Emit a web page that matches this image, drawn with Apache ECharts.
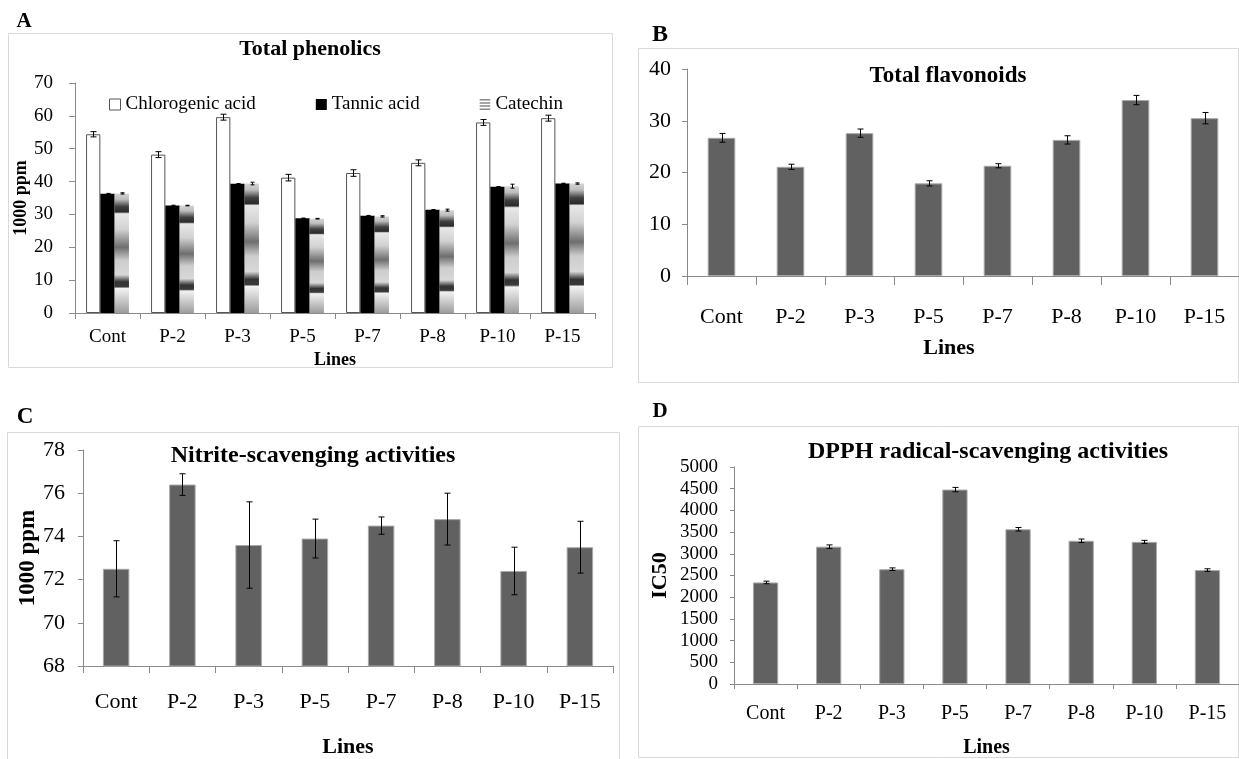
<!DOCTYPE html>
<html>
<head>
<meta charset="utf-8">
<script src="https://cdn.jsdelivr.net/npm/echarts@6/dist/echarts.min.js"></script>
<style>
html, body { margin: 0; padding: 0; background: #fff; }
#main { width: 1239px; height: 759px; }
</style>
</head>
<body>
<div id="main"></div>
<script>
// categories (same for the 4 panels)
var lines = ['Cont', 'P-2', 'P-3', 'P-5', 'P-7', 'P-8', 'P-10', 'P-15'];

// A - total phenolics
var chlorogenic = [54.4, 48.2, 59.6, 41.2, 42.6, 45.7, 58.0, 59.3];
var chlorogenicErr = [0.8, 0.9, 0.9, 1.0, 1.0, 0.9, 0.9, 0.9];
var tannic = [36.3, 32.7, 39.3, 28.8, 29.6, 31.4, 38.4, 39.4];
var tannicErr = [0.1, 0.1, 0.1, 0.1, 0.1, 0.1, 0.1, 0.1];
var catechin = [36.4, 32.7, 39.4, 28.7, 29.4, 31.3, 38.6, 39.4];
var catechinErr = [0.2, 0.1, 0.4, 0.1, 0.2, 0.3, 0.6, 0.2];

// B - total flavonoids
var flavonoids = [26.7, 21.1, 27.6, 17.9, 21.3, 26.3, 34.0, 30.5];
var flavonoidsErr = [0.85, 0.5, 0.8, 0.5, 0.4, 0.8, 0.9, 1.1];

// C - nitrite scavenging
var nitrite = [72.5, 76.4, 73.6, 73.9, 74.5, 74.8, 72.4, 73.5];
var nitriteErr = [1.3, 0.5, 2.0, 0.9, 0.4, 1.2, 1.1, 1.2];

// D - DPPH IC50
var dpph = [2340, 3165, 2645, 4480, 3565, 3300, 3275, 2625];
var dpphErr = [30, 40, 30, 50, 40, 40, 35, 30];

var FONT = '"Liberation Serif", "Times New Roman", serif';
var AXIS_COLOR = '#8a8a8a';
var BAR_GRAY = '#616161';

var chart = echarts.init(document.getElementById('main'));

function toErrData(vals, errs) {
	return lines.map(function (c, i) {
		return [i, vals[i], errs[i]];
	});
}

// error bar drawn with api.coord, offset = fraction of category band
function errBar(offset, cap) {
	return function (params, api) {
		var i = api.value(0), v = api.value(1), e = api.value(2);
		var band = api.size([1, 0])[0];
		var top = api.coord([i, v + e]);
		var bot = api.coord([i, v - e]);
		var x = Math.round(top[0] + offset * band) + 0.5;
		var st = { stroke: '#000', lineWidth: 1 };
		return {
			type: 'group',
			children: [
				{ type: 'line', shape: { x1: x, y1: top[1], x2: x, y2: bot[1] }, style: st },
				{ type: 'line', shape: { x1: x - cap, y1: top[1], x2: x + cap, y2: top[1] }, style: st },
				{ type: 'line', shape: { x1: x - cap, y1: bot[1], x2: x + cap, y2: bot[1] }, style: st }
			]
		};
	};
}

function catAxis(idx, o) {
	return {
		type: 'category',
		gridIndex: idx,
		data: lines,
		axisLine: { lineStyle: { color: AXIS_COLOR, width: 1 } },
		axisTick: { show: true, length: o.tick, lineStyle: { color: AXIS_COLOR } },
		axisLabel: { color: '#000', fontFamily: FONT, fontSize: o.fs, margin: o.margin },
		name: 'Lines',
		nameLocation: 'middle',
		nameGap: o.nameGap,
		nameTextStyle: { color: '#000', fontFamily: FONT, fontWeight: 'bold', fontSize: o.nfs, padding: o.namePad || 0 }
	};
}

function valAxis(idx, o) {
	return {
		type: 'value',
		gridIndex: idx,
		min: o.min,
		max: o.max,
		interval: o.interval,
		axisLine: { show: true, lineStyle: { color: AXIS_COLOR, width: 1 } },
		axisTick: { show: true, length: o.tick, lineStyle: { color: AXIS_COLOR } },
		axisLabel: {
			color: '#000', fontFamily: FONT, fontSize: o.fs, margin: o.margin,
			formatter: function (v) { return String(v); }
		},
		splitLine: { show: false },
		name: o.name || '',
		nameLocation: 'middle',
		nameGap: o.nameGap || 0,
		nameTextStyle: { color: '#000', fontFamily: FONT, fontWeight: 'bold', fontSize: o.nfs || 18 }
	};
}

function grayBars(name, idx, vals) {
	return {
		name: name,
		type: 'bar',
		xAxisIndex: idx,
		yAxisIndex: idx,
		barWidth: '40%',
		itemStyle: { color: BAR_GRAY, borderColor: '#a8a8a8', borderWidth: 1 },
		data: vals
	};
}

function errSeries(idx, vals, errs, offset, cap) {
	return {
		type: 'custom',
		xAxisIndex: idx,
		yAxisIndex: idx,
		z: 5,
		renderItem: errBar(offset, cap),
		encode: { x: 0, y: 1 },
		data: toErrData(vals, errs)
	};
}

// banded fill used for catechin
var catechinFill = new echarts.graphic.LinearGradient(0, 0, 0, 1, [
	{ offset: 0, color: '#d6d6d6' },
	{ offset: 0.05, color: '#bcbcbc' },
	{ offset: 0.11, color: '#404040' },
	{ offset: 0.155, color: '#2a2a2a' },
	{ offset: 0.17, color: '#e8e8e8' },
	{ offset: 0.3, color: '#d2d2d2' },
	{ offset: 0.45, color: '#6e6e6e' },
	{ offset: 0.56, color: '#cdcdcd' },
	{ offset: 0.68, color: '#d8d8d8' },
	{ offset: 0.74, color: '#333333' },
	{ offset: 0.78, color: '#3a3a3a' },
	{ offset: 0.795, color: '#f2f2f2' },
	{ offset: 1, color: '#9c9c9c' }
]);

function titleAt(text, x, y, size) {
	return {
		text: text,
		left: x,
		top: y,
		textAlign: 'center',
		padding: 0,
		textStyle: { fontFamily: FONT, fontWeight: 'bold', fontSize: size, color: '#000' }
	};
}

function letter(text, x, y, size) {
	return {
		type: 'text',
		x: x,
		y: y,
		style: { text: text, fontFamily: FONT, fontWeight: 'bold', fontSize: size, fill: '#000', align: 'center', verticalAlign: 'middle' }
	};
}

function box(x, y, w, h) {
	return {
		type: 'rect',
		shape: { x: x, y: y, width: w, height: h },
		style: { fill: 'none', stroke: '#d9d9d9', lineWidth: 1 },
		z: -1
	};
}

var option = {
	backgroundColor: '#fff',
	animation: false,
	title: [
		titleAt('Total phenolics', 310, 38, 22),
		titleAt('Total flavonoids', 948, 65, 23),
		titleAt('Nitrite-scavenging activities', 313, 444, 24),
		titleAt('DPPH radical-scavenging activities', 988, 440, 24)
	],
	graphic: [
		box(8.5, 33.5, 604, 334),
		box(638.5, 48.5, 600, 334),
		box(7.5, 432.5, 612, 340),
		box(638.5, 426.5, 600, 331),
		letter('A', 24, 22, 21),
		letter('B', 660, 35, 24),
		letter('C', 25, 417, 23),
		letter('D', 660, 412, 21)
	],
	legend: {
		left: 104,
		top: 90,
		itemGap: 60,
		itemWidth: 11,
		itemHeight: 11,
		textStyle: { fontFamily: FONT, fontSize: 19, color: '#000' },
		data: [
			{ name: 'Chlorogenic acid', icon: 'rect', itemStyle: { color: '#fff', borderColor: '#555', borderWidth: 1 } },
			{ name: 'Tannic acid', icon: 'rect', itemStyle: { color: '#000' } },
			{ name: 'Catechin', icon: 'path://M0,0h10v1.4H0z M0,3h10v1.4H0z M0,6h10v1.4H0z M0,9h10v1.4H0z', itemStyle: { color: '#8a8a8a' } }
		]
	},
	grid: [
		{ left: 75, top: 83, width: 520, height: 230 },
		{ left: 687, top: 69, width: 558, height: 207 },
		{ left: 83, top: 450, width: 530, height: 225 },
		{ left: 734, top: 467, width: 512, height: 225 }
	],
	xAxis: [
		catAxis(0, { tick: 6, fs: 19, margin: 15, nameGap: 38, nfs: 18 }),
		catAxis(1, { tick: 9, fs: 22, margin: 30, nameGap: 61, nfs: 22, namePad: [0, 28, 0, 0] }),
		catAxis(2, { tick: 7, fs: 22, margin: 25, nameGap: 70, nfs: 22 }),
		catAxis(3, { tick: 5, fs: 20, margin: 20, nameGap: 54, nfs: 20 })
	],
	yAxis: [
		valAxis(0, { min: 0, max: 70, interval: 10, tick: 6, fs: 19, margin: 22, name: '1000 ppm', nameGap: 44, nfs: 18 }),
		valAxis(1, { min: 0, max: 40, interval: 10, tick: 5, fs: 22, margin: 16 }),
		valAxis(2, { min: 68, max: 78, interval: 2, tick: 5, fs: 22, margin: 18, name: '1000 ppm', nameGap: 42, nfs: 23 }),
		valAxis(3, { min: 0, max: 5000, interval: 500, tick: 4, fs: 19, margin: 16, name: 'IC50', nameGap: 63, nfs: 22 })
	],
	series: [
		{
			name: 'Chlorogenic acid',
			type: 'bar',
			xAxisIndex: 0,
			yAxisIndex: 0,
			barWidth: '22%',
			barGap: '0%',
			itemStyle: { color: '#fff', borderColor: '#555', borderWidth: 1 },
			data: chlorogenic
		},
		{
			name: 'Tannic acid',
			type: 'bar',
			xAxisIndex: 0,
			yAxisIndex: 0,
			barWidth: '22%',
			barGap: '0%',
			itemStyle: { color: '#000' },
			data: tannic
		},
		{
			name: 'Catechin',
			type: 'bar',
			xAxisIndex: 0,
			yAxisIndex: 0,
			barWidth: '22%',
			barGap: '0%',
			itemStyle: { color: catechinFill },
			data: catechin
		},
		errSeries(0, chlorogenic, chlorogenicErr, -0.22, 3),
		errSeries(0, tannic, tannicErr, 0, 2),
		errSeries(0, catechin, catechinErr, 0.22, 2),

		grayBars('Total flavonoids', 1, flavonoids),
		errSeries(1, flavonoids, flavonoidsErr, 0, 3),

		grayBars('Nitrite-scavenging', 2, nitrite),
		errSeries(2, nitrite, nitriteErr, 0, 3),

		grayBars('DPPH', 3, dpph),
		errSeries(3, dpph, dpphErr, 0, 3)
	]
};

chart.setOption(option);
</script>
</body>
</html>
